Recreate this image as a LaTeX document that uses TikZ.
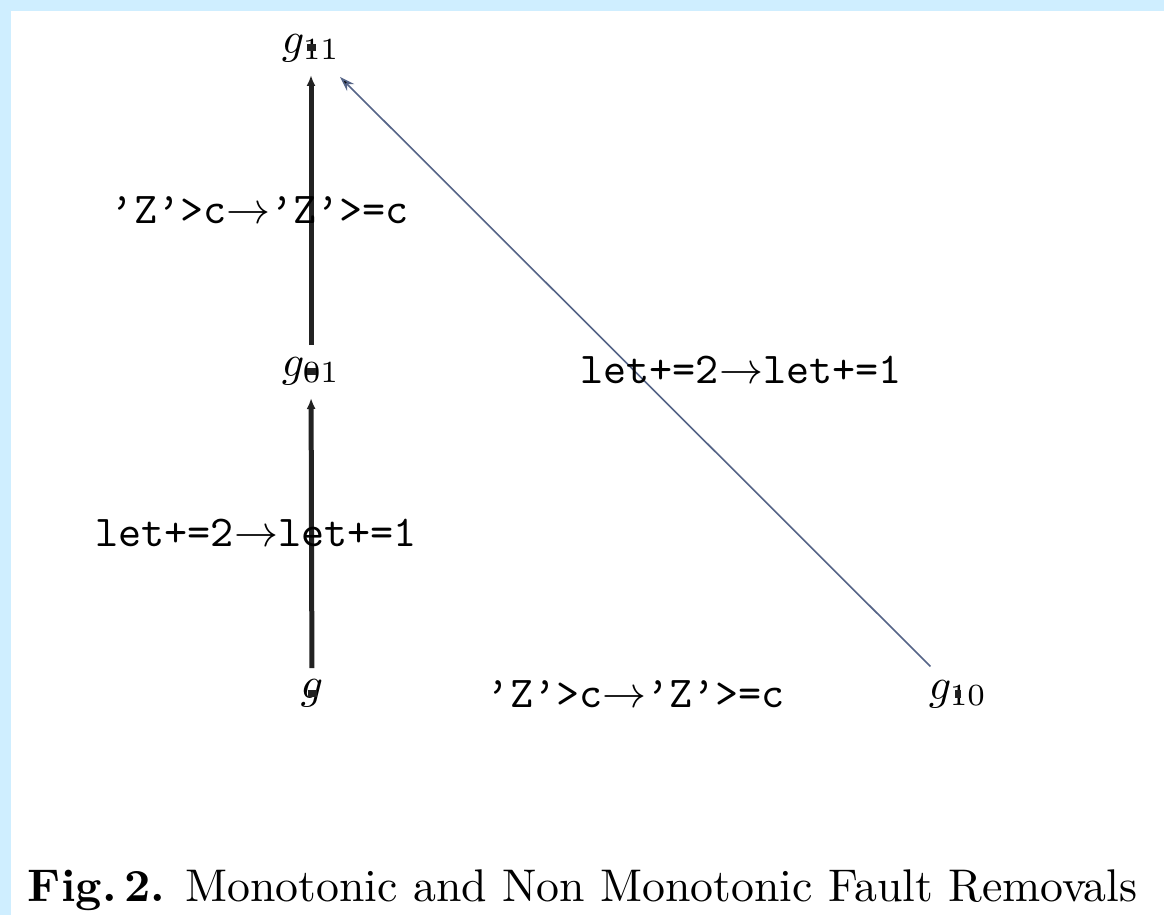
\documentclass[tikz,border=0pt]{standalone}
\usepackage{fontspec}
\usetikzlibrary{arrows.meta}
\definecolor{frameblue}{RGB}{207,238,255}
\definecolor{diagcol}{RGB}{85,100,135}
\definecolor{darkline}{RGB}{34,34,34}
\tikzset{
  state/.style={inner sep=0pt, font=\fontsize{10}{12}\selectfont, scale=4.4, transform shape},
  lbl/.style={inner sep=0pt, font=\fontsize{10}{12}\selectfont\ttfamily, anchor=base, scale=4.4, transform shape},
  mono/.style={line width=5pt, draw=darkline, -{Latex[length=11pt,width=9pt]}},
  nonmono/.style={line width=1.6pt, draw=diagcol, -{Stealth[length=15pt,width=10pt,fill=black]}},
}
\begin{document}
\begin{tikzpicture}[x=1pt,y=-1pt]
  % background and frame
  \fill[white] (0,0) rectangle (1164,915);
  \fill[frameblue] (0,0) rectangle (1164,11);
  \fill[frameblue] (0,0) rectangle (11,915);
  \useasboundingbox (0,0) rectangle (1164,915);

  % states
  \node[state] (g11) at (311,48) {$g_{11}$};
  \node[state] (g01) at (311,371) {$g_{01}$};
  \node[state] (g)   at (312,693) {$g$};
  \node[state] (g10) at (958,694) {$g_{10}$};

  % connectors
  \draw[mono, shorten <=25pt, shorten >=27pt] (g.center) -- (g01.center);
  \draw[mono, shorten <=26pt, shorten >=27pt] (g01.center) -- (g11.center);
  \draw[nonmono, shorten <=39pt, shorten >=41pt] (g10.center) -- (g11.center);

  % small marks at node centres
  \foreach \n in {g11,g01,g} {
    \fill[darkline] (\n.center) ++(-4.5,-3.5) rectangle ++(9,7);
  }
  \fill[darkline] (g10.center) ++(-3,-4) rectangle ++(6,8);

  % labels
  \node[lbl] (l1) at (260,223) {’Z’>c$\rightarrow$’Z’>=c};
  \node[lbl] (l2) at (256,546) {let+=2$\rightarrow$let+=1};
  \node[lbl] (l3) at (741,383) {let+=2$\rightarrow$let+=1};
  \node[lbl] (l4) at (636,707) {’Z’>c$\rightarrow$’Z’>=c};

  % caption
  \node[inner sep=0pt, anchor=base west, font=\fontsize{10}{12}\selectfont, scale=4.58, transform shape] (cap) at (27,901)
    {\textbf{Fig.\,2.} Monotonic and Non Monotonic Fault Removals};
\end{tikzpicture}
\end{document}
